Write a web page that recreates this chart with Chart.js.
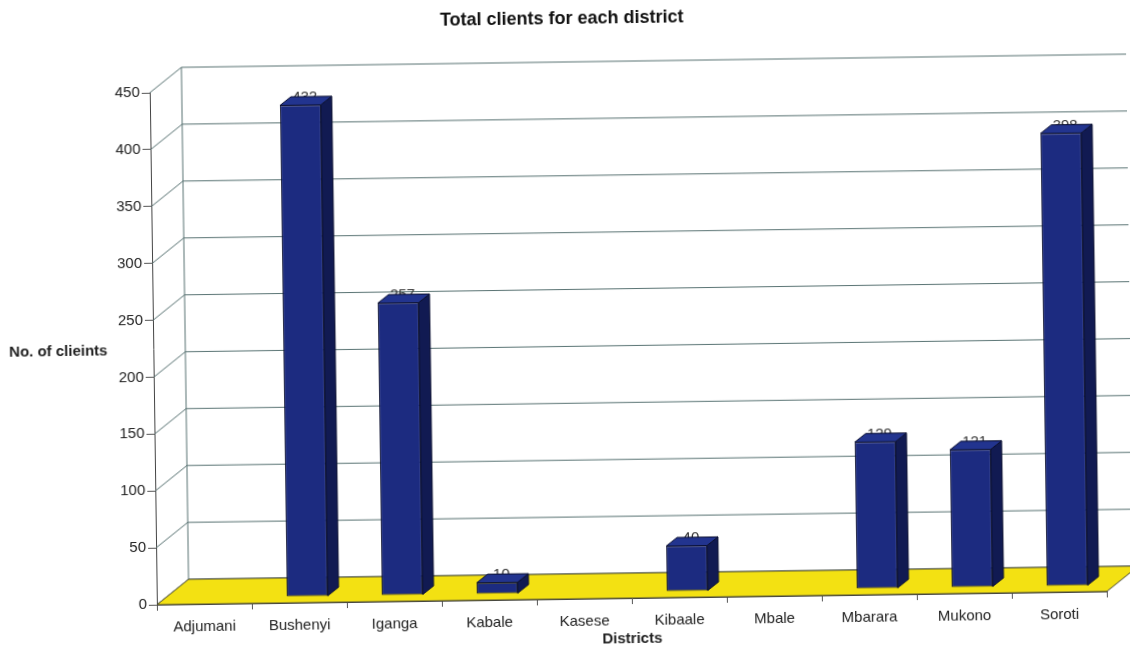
<!DOCTYPE html>
<html><head><meta charset="utf-8">
<script src="https://cdn.jsdelivr.net/npm/chart.js@4.4.1/dist/chart.umd.min.js"></script>
<style>
html,body{margin:0;padding:0;background:#fff;overflow:hidden;}
#wrap{position:absolute;left:0;top:0;width:1130px;height:647px;transform:rotate(-0.8deg);transform-origin:565px 323.5px;}
canvas{display:block;}
</style></head><body>
<div id="wrap"><canvas id="c" width="1130" height="647"></canvas></div>
<script>
const districts = ['Adjumani','Bushenyi','Iganga','Kabale','Kasese','Kibaale','Mbale','Mbarara','Mukono','Soroti'];
const clients = [0, 432, 257, 10, 0, 40, 0, 129, 121, 398];
const yMin = 0, yMax = 450, yStep = 50;
const chartTitle = 'Total clients for each district';
const xTitle = 'Districts';
const yTitle = 'No. of clieints';

const WALL = {dx: 32, dy: -25};
const BAR_OFF = {dx: 8, dy: -6};
const BAR_DEPTH = {dx: 11, dy: -8.5};
const FONT = 'Liberation Sans, Arial, sans-serif';
Chart.defaults.font.family = FONT;

const threeD = {
  id: 'threeD',
  beforeDatasetsDraw(chart) {
    const {ctx, chartArea: {left, right, top, bottom}, scales: {y}} = chart;
    ctx.save();
    ctx.strokeStyle = '#587272';
    ctx.lineWidth = 1;
    y.ticks.forEach(t => {
      const py = y.getPixelForValue(t.value);
      ctx.beginPath();
      ctx.moveTo(left, py);
      ctx.lineTo(left + WALL.dx, py + WALL.dy);
      ctx.lineTo(right + WALL.dx + 60, py + WALL.dy);
      ctx.stroke();
    });
    ctx.beginPath();
    ctx.moveTo(left + WALL.dx, top + WALL.dy);
    ctx.lineTo(left + WALL.dx, bottom + WALL.dy);
    ctx.stroke();
    // floor
    ctx.beginPath();
    ctx.moveTo(left, bottom);
    ctx.lineTo(right, bottom);
    ctx.lineTo(right + WALL.dx, bottom + WALL.dy);
    ctx.lineTo(left + WALL.dx, bottom + WALL.dy);
    ctx.closePath();
    ctx.fillStyle = '#f3e112';
    ctx.fill();
    ctx.strokeStyle = '#4a4a3a';
    ctx.stroke();
    // value labels (drawn behind bars)
    const meta = chart.getDatasetMeta(0);
    ctx.font = '15px ' + FONT;
    ctx.fillStyle = '#333';
    ctx.textAlign = 'center';
    ctx.textBaseline = 'middle';
    meta.data.forEach((el, i) => {
      const v = clients[i];
      if (!v) return;
      const tx = el.x + BAR_OFF.dx + BAR_DEPTH.dx * 0.4;
      const ty = el.y + BAR_OFF.dy + BAR_DEPTH.dy + 1;
      ctx.fillText(String(v), tx, ty);
    });
    // titles (horizontal)
    ctx.font = 'bold 15px ' + FONT;
    ctx.fillStyle = '#222';
    ctx.fillText(yTitle, 58, 345);
    ctx.font = 'bold 18px ' + FONT;
    ctx.fillStyle = '#111';
    ctx.fillText(chartTitle, 566, 19);
    ctx.restore();
    ctx.save();
    ctx.translate(BAR_OFF.dx, BAR_OFF.dy);
  },
  afterDatasetsDraw(chart) {
    const ctx = chart.ctx;
    ctx.restore();
    const meta = chart.getDatasetMeta(0);
    ctx.save();
    ctx.lineWidth = 1;
    ctx.strokeStyle = '#0a0f30';
    meta.data.forEach((el, i) => {
      if (!clients[i]) return;
      const {x, y, base, width} = el.getProps(['x', 'y', 'base', 'width'], true);
      const l = x - width / 2 + BAR_OFF.dx, r = x + width / 2 + BAR_OFF.dx;
      const t = y + BAR_OFF.dy, b = base + BAR_OFF.dy;
      // side
      ctx.beginPath();
      ctx.moveTo(r, t);
      ctx.lineTo(r + BAR_DEPTH.dx, t + BAR_DEPTH.dy);
      ctx.lineTo(r + BAR_DEPTH.dx, b + BAR_DEPTH.dy);
      ctx.lineTo(r, b);
      ctx.closePath();
      ctx.fillStyle = '#111a52';
      ctx.fill(); ctx.stroke();
      // top
      ctx.beginPath();
      ctx.moveTo(l, t);
      ctx.lineTo(r, t);
      ctx.lineTo(r + BAR_DEPTH.dx, t + BAR_DEPTH.dy);
      ctx.lineTo(l + BAR_DEPTH.dx, t + BAR_DEPTH.dy);
      ctx.closePath();
      ctx.fillStyle = '#22348f';
      ctx.fill(); ctx.stroke();
    });
    ctx.restore();
  }
};

new Chart(document.getElementById('c'), {
  type: 'bar',
  data: {
    labels: districts,
    datasets: [{
      data: clients,
      backgroundColor: '#1c2b80',
      borderColor: '#0a0f30',
      borderWidth: 1,
      borderSkipped: false,
      categoryPercentage: 1,
      barPercentage: 0.43
    }]
  },
  options: {
    responsive: false,
    animation: false,
    layout: {padding: {left: 0, right: 27, top: 87, bottom: 0}},
    plugins: {
      legend: {display: false},
      tooltip: {enabled: false},
      title: {display: false}
    },
    scales: {
      x: {
        grid: {display: true, drawOnChartArea: false, drawTicks: true, tickLength: 6, color: '#555', offset: true},
        border: {display: true, color: '#444'},
        ticks: {font: {size: 15}, color: '#222', padding: 8, maxRotation: 0, autoSkip: false},
        title: {display: true, text: xTitle, color: '#222', font: {size: 15, weight: 'bold'}, padding: {top: 0, bottom: -2}},
        afterFit(s) { s.height = 48; }
      },
      y: {
        min: yMin, max: yMax,
        grid: {drawOnChartArea: false, drawTicks: true, tickLength: 8, color: '#555'},
        border: {display: true, color: '#444'},
        ticks: {stepSize: yStep, font: {size: 15}, color: '#222', padding: 2},
        afterFit(s) { s.width = 153; }
      }
    }
  },
  plugins: [threeD]
});
</script>
</body></html>
